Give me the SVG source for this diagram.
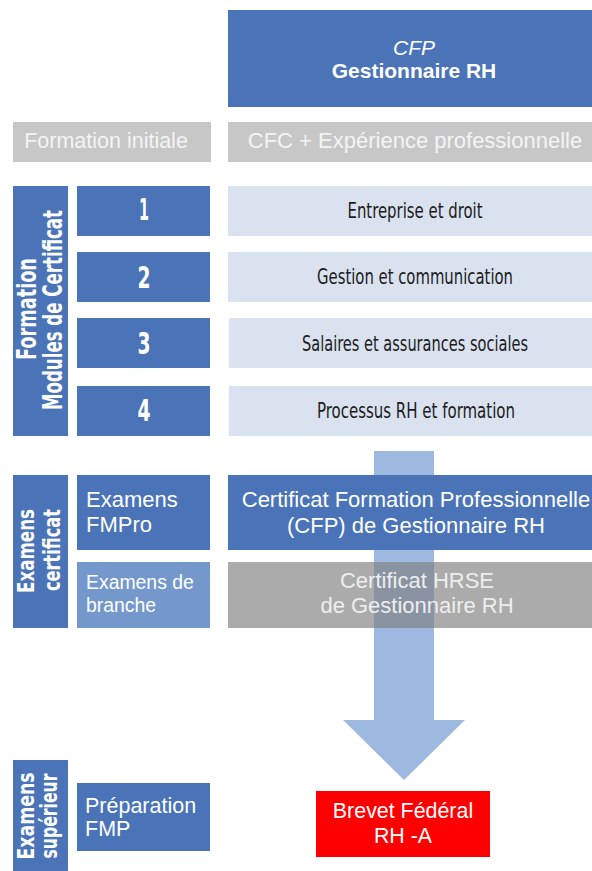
<svg xmlns="http://www.w3.org/2000/svg" width="592" height="871" viewBox="0 0 592 871">
<style>
.blue{fill:#4A74B7}
.lblue{fill:#7598CC}
.mod{fill:#DAE2EF}
.gray{fill:#C7C7C7}
.sans{font-family:"Liberation Sans",Arial,sans-serif}
.cond{font-family:"DejaVu Sans Condensed","DejaVu Sans",sans-serif}
.w{fill:#FFFFFF}
.vl{font-family:"DejaVu Sans Condensed","DejaVu Sans",sans-serif;font-weight:bold;fill:#FFFFFF;text-anchor:middle}
.num{font-family:"DejaVu Sans Condensed","DejaVu Sans",sans-serif;font-weight:bold;fill:#FFFFFF;font-size:30px;text-anchor:middle}
.mt{font-family:"DejaVu Sans Condensed","DejaVu Sans",sans-serif;fill:#1C1C1C;font-size:21px;text-anchor:middle}
</style>
<rect width="592" height="871" fill="#FFFFFF"/>

<g id="title">
<rect class="blue" x="228" y="10" width="364" height="97"/>
<text class="sans w" x="414" y="55" font-size="21" font-style="italic" text-anchor="middle">CFP</text>
<text class="sans w" x="414" y="78" font-size="21" font-weight="bold" text-anchor="middle">Gestionnaire RH</text>
</g>

<g id="formation-initiale">
<rect class="gray" x="13" y="122" width="198" height="40"/>
<text class="sans" x="106" y="148" font-size="21.5" fill="#F4F4F4" text-anchor="middle">Formation initiale</text>
</g>
<g id="cfc">
<rect class="gray" x="228" y="122" width="364" height="40"/>
<text class="sans" x="415" y="148" font-size="22" fill="#F4F4F4" text-anchor="middle">CFC + Expérience professionnelle</text>
</g>

<g id="label-formation">
<rect class="blue" x="13" y="186" width="55" height="250"/>
<text class="vl" font-size="27" transform="translate(36,309) rotate(-90)" textLength="102" lengthAdjust="spacingAndGlyphs">Formation</text>
<text class="vl" font-size="27" transform="translate(62,310) rotate(-90)" textLength="200" lengthAdjust="spacingAndGlyphs">Modules de Certificat</text>
</g>

<g id="module-1">
<rect class="blue" x="77" y="186" width="133" height="50"/>
<text class="num" x="144" y="220" textLength="10" lengthAdjust="spacingAndGlyphs">1</text>
<rect class="mod" x="228" y="186" width="364" height="50"/>
<text class="mt" x="415" y="218" textLength="135" lengthAdjust="spacingAndGlyphs">Entreprise et droit</text>
</g>
<g id="module-2">
<rect class="blue" x="77" y="252" width="133" height="50"/>
<text class="num" x="144" y="288" textLength="13" lengthAdjust="spacingAndGlyphs">2</text>
<rect class="mod" x="228" y="252" width="364" height="50"/>
<text class="mt" x="415" y="284" textLength="196" lengthAdjust="spacingAndGlyphs">Gestion et communication</text>
</g>
<g id="module-3">
<rect class="blue" x="77" y="318" width="133" height="50"/>
<text class="num" x="144" y="354" textLength="13" lengthAdjust="spacingAndGlyphs">3</text>
<rect class="mod" x="229" y="318" width="363" height="50"/>
<text class="mt" x="415" y="351" textLength="226" lengthAdjust="spacingAndGlyphs">Salaires et assurances sociales</text>
</g>
<g id="module-4">
<rect class="blue" x="77" y="386" width="133" height="50"/>
<text class="num" x="144" y="421" textLength="13" lengthAdjust="spacingAndGlyphs">4</text>
<rect class="mod" x="229" y="386" width="363" height="50"/>
<text class="mt" x="416" y="418" textLength="198" lengthAdjust="spacingAndGlyphs">Processus RH et formation</text>
</g>

<g id="connectors">
<path d="M374,451 H434 V720 H465 L404,780 L343,720 H374 Z" fill="#9EB9E0"/>
</g>

<g id="label-examens-certificat">
<rect class="blue" x="13" y="475" width="55" height="153"/>
<text class="vl" font-size="23" transform="translate(34,551) rotate(-90)" textLength="84" lengthAdjust="spacingAndGlyphs">Examens</text>
<text class="vl" font-size="23" transform="translate(60,550) rotate(-90)" textLength="82" lengthAdjust="spacingAndGlyphs">certificat</text>
</g>

<g id="examens-fmpro">
<rect class="blue" x="77" y="475" width="133" height="75"/>
<text class="sans w" x="86" y="507" font-size="22">Examens</text>
<text class="sans w" x="86" y="532" font-size="22">FMPro</text>
</g>
<g id="cert-cfp">
<rect class="blue" x="228" y="475" width="364" height="75"/>
<text class="sans w" x="416" y="507" font-size="22" text-anchor="middle">Certificat Formation Professionnelle</text>
<text class="sans w" x="416" y="533" font-size="22" text-anchor="middle">(CFP) de Gestionnaire RH</text>
</g>

<g id="examens-branche">
<rect class="lblue" x="77" y="562" width="133" height="66"/>
<text class="sans w" x="86" y="589" font-size="19.4">Examens de</text>
<text class="sans w" x="86" y="612" font-size="19.4">branche</text>
</g>
<g id="cert-hrse">
<rect x="228" y="562" width="364" height="66" fill="#808080" fill-opacity="0.66"/>
<text class="sans" x="417" y="588" font-size="22" fill="#EEEEEE" text-anchor="middle">Certificat HRSE</text>
<text class="sans" x="417" y="613" font-size="22" fill="#EEEEEE" text-anchor="middle">de Gestionnaire RH</text>
</g>

<g id="label-examens-superieur">
<rect class="blue" x="13" y="760" width="55" height="111"/>
<text class="vl" font-size="23" transform="translate(34,816) rotate(-90)" textLength="87" lengthAdjust="spacingAndGlyphs">Examens</text>
<text class="vl" font-size="23" transform="translate(57,816) rotate(-90)" textLength="85" lengthAdjust="spacingAndGlyphs">supérieur</text>
</g>

<g id="preparation-fmp">
<rect class="blue" x="77" y="783" width="133" height="68"/>
<text class="sans w" x="85" y="813" font-size="21.5">Préparation</text>
<text class="sans w" x="85" y="836" font-size="21.5">FMP</text>
</g>

<g id="brevet">
<rect x="316" y="791" width="174" height="66" fill="#FF0000"/>
<text class="sans w" x="403" y="818" font-size="21.4" text-anchor="middle">Brevet Fédéral</text>
<text class="sans w" x="403" y="843" font-size="21.4" text-anchor="middle">RH -A</text>
</g>
</svg>
